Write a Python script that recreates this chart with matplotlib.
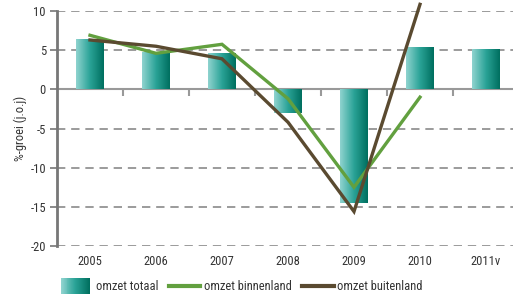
import matplotlib
matplotlib.use("Agg")
import matplotlib.pyplot as plt
import numpy as np
from matplotlib.colors import LinearSegmentedColormap
from matplotlib.legend_handler import HandlerBase
from matplotlib.patches import Rectangle
from matplotlib.lines import Line2D
from matplotlib import font_manager

years = ["2005", "2006", "2007", "2008", "2009", "2010", "2011v"]
omzet_totaal = [6.4, 4.8, 4.6, -3.0, -14.5, 5.4, 5.1]
omzet_binnenland = [6.9, 4.6, 5.75, -1.2, -12.5, -1.0]
omzet_buitenland = [6.3, 5.5, 3.9, -4.2, -15.6, 10.85]
yticks = [10, 5, 0, -5, -10, -15, -20]

# pick a condensed font if one is installed
cands = []
for f in font_manager.fontManager.ttflist:
    nm = f.name.lower()
    st = str(f.stretch).lower()
    if f.style != "normal" or f.weight not in (400, "normal", "regular"):
        continue
    if "narrow" in nm or "condensed" in nm or "condensed" in st or st in ("600", "700", "500"):
        cands.append(f)
pref = ["liberation sans narrow", "roboto condensed", "open sans condensed", "dejavu sans"]
chosen = None
for p in pref:
    for f in cands:
        if f.name.lower() == p:
            chosen = f
            break
    if chosen:
        break
if chosen is None and cands:
    chosen = cands[0]
if chosen is not None:
    font_manager.fontManager.addfont(chosen.fname)
    plt.rcParams["font.family"] = [chosen.name, "DejaVu Sans"]
    plt.rcParams["font.stretch"] = chosen.stretch
    fsz = 9
else:
    plt.rcParams["font.family"] = ["DejaVu Sans"]
    fsz = 8.3

cmap = LinearSegmentedColormap.from_list("teal", ["#8fd3cf", "#2aa397", "#006f5f"])
green = "#62a03f"
brown = "#5a4a30"
txt = "#333333"
grid = "#8a8a8a"

fig = plt.figure(figsize=(5.13, 2.94), dpi=100)
ax = fig.add_axes([57/513, (294-246)/294, (519-57)/513, (246-11)/294])

x = np.arange(len(years))
bars = ax.bar(x, omzet_totaal, width=0.41, color="none", zorder=2)
grad = np.linspace(0, 1, 64).reshape(1, -1)
for b in bars:
    x0, y0 = b.get_x(), b.get_y()
    w, h = b.get_width(), b.get_height()
    im = ax.imshow(grad, cmap=cmap, aspect="auto", extent=[x0, x0 + w, y0, y0 + h],
                   zorder=2, interpolation="bicubic")
    im.set_clip_path(b)

ax.plot(x[:len(omzet_binnenland)], omzet_binnenland, color=green, lw=2.4, zorder=3,
        solid_joinstyle="miter", clip_on=False)
ax.plot(x[:len(omzet_buitenland)], omzet_buitenland, color=brown, lw=2.4, zorder=4,
        solid_joinstyle="miter", clip_on=False)

ax.set_xlim(-0.5, len(years) - 0.5)
ax.set_ylim(-20, 10)

for yv in yticks:
    if yv == 0:
        ax.axhline(yv, color="#999999", lw=1.5, zorder=1.5)
    else:
        ax.axhline(yv, color=grid, lw=1.2, ls=(0, (5, 3.5)), zorder=1)

for s in ["top", "right", "bottom"]:
    ax.spines[s].set_visible(False)
ax.spines["left"].set_color("#777777")
ax.spines["left"].set_linewidth(2)
ax.spines["bottom"].set_position(("data", 0))

ax.set_yticks(yticks)
ax.set_yticklabels([str(v) for v in yticks])
ax.tick_params(axis="y", length=5, width=1.2, color="#777777", labelcolor=txt,
               labelsize=fsz, pad=3)
ax.set_xticks(x[:-1] + 0.5)
ax.set_xticklabels([])
ax.tick_params(axis="x", length=5, width=1.5, color="#999999", direction="out")

for xi, lab in zip(x, years):
    ax.text(xi, -22.0, lab, ha="center", va="center", fontsize=fsz, color=txt,
            clip_on=False)

ax.set_ylabel("%-groei (j.o.j)", fontsize=fsz, color=txt, labelpad=2)
ax.patch.set_visible(False)


class GradHandler(HandlerBase):
    def create_artists(self, legend, orig_handle, xdescent, ydescent, width, height,
                       fontsize, trans):
        n = 30
        arts = []
        w2 = width * 0.92
        for i in range(n):
            r = Rectangle((-xdescent + w2 * i / n, -ydescent - 2.5), w2 / n + 0.3,
                          height + 5, facecolor=cmap(i / (n - 1)), edgecolor="none",
                          transform=trans)
            arts.append(r)
        return arts


handles = [Rectangle((0, 0), 1, 1), Line2D([], [], color=green, lw=3),
           Line2D([], [], color=brown, lw=3)]
labels = ["omzet totaal", "omzet binnenland", "omzet buitenland"]
leg = fig.legend(handles, labels, handler_map={Rectangle: GradHandler()},
                 loc="center left", bbox_to_anchor=(52/513, 1 - 287/294), ncol=3,
                 frameon=False, fontsize=fsz, handlelength=2.5, handletextpad=0.3,
                 columnspacing=0.85, labelcolor=txt, borderpad=0.2)

fig.savefig("out.png", dpi=100)
